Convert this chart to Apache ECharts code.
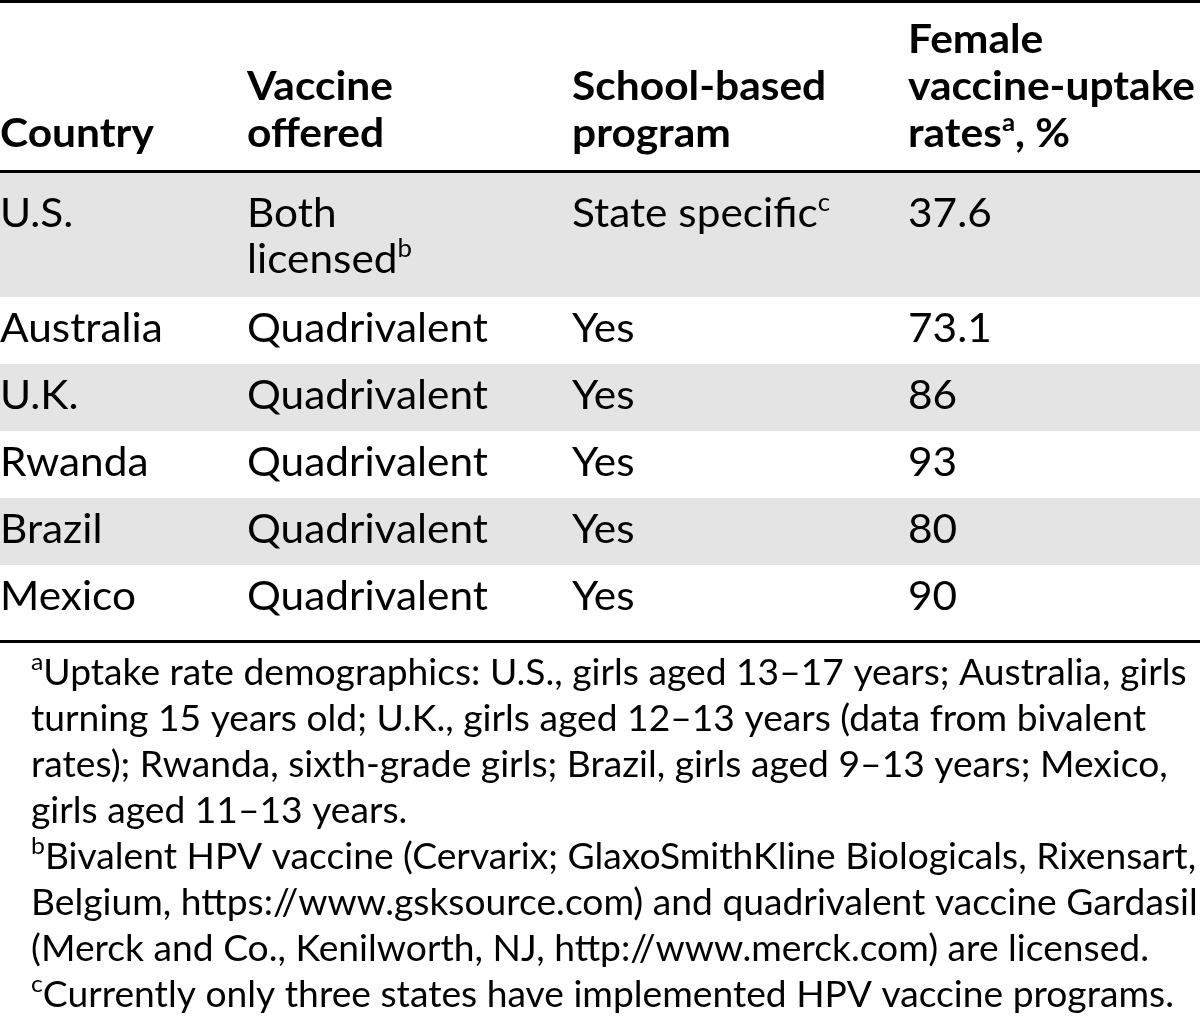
<!DOCTYPE html>
<html>
<head>
<meta charset="utf-8">
<title>HPV vaccine uptake table</title>
<script src="https://cdn.jsdelivr.net/npm/echarts/dist/echarts.min.js"></script>
<style>
  html, body { margin: 0; padding: 0; background: #ffffff; }
  #chart { width: 1200px; height: 1017px; }
</style>
</head>
<body>
<div id="chart"></div>
<script>
// ---------------- DATA (read from the reference table) ----------------
// "{x}" marks a superscript footnote letter, "\n" a line break inside a cell.
const headers = ['Country', 'Vaccine\noffered', 'School-based\nprogram', 'Female\nvaccine-uptake\nrates{a}, %'];
const countries = ['U.S.', 'Australia', 'U.K.', 'Rwanda', 'Brazil', 'Mexico'];
const vaccineOffered = ['Both\nlicensed{b}', 'Quadrivalent', 'Quadrivalent', 'Quadrivalent', 'Quadrivalent', 'Quadrivalent'];
const schoolBasedProgram = ['State specific{c}', 'Yes', 'Yes', 'Yes', 'Yes', 'Yes'];
const uptakeRates = ['37.6', '73.1', '86', '93', '80', '90'];
const footnotes = [
  '{a}Uptake rate demographics: U.S., girls aged 13–17 years; Australia, girls',
  'turning 15 years old; U.K., girls aged 12–13 years (data from bivalent',
  'rates); Rwanda, sixth-grade girls; Brazil, girls aged 9–13 years; Mexico,',
  'girls aged 11–13 years.',
  '{b}Bivalent HPV vaccine (Cervarix; GlaxoSmithKline Biologicals, Rixensart,',
  'Belgium, https://www.gsksource.com) and quadrivalent vaccine Gardasil',
  '(Merck and Co., Kenilworth, NJ, http://www.merck.com) are licensed.',
  '{c}Currently only three states have implemented HPV vaccine programs.'
];

// ---------------- LAYOUT / STYLE ----------------
const FAMILY = 'Lato, "Noto Sans", "DejaVu Sans", sans-serif';
const layout = {
  width: 1200,
  colX: [0, 247, 572, 908],
  topRule: { y: 0, h: 3 },
  headRule: { y: 170, h: 3 },
  bottomRule: { y: 640, h: 3 },
  headLastBaseline: 147,
  headLineHeight: 47,
  firstRowTop: 173,
  firstRowHeight: 124,
  rowHeight: 67,
  firstRowBaselineOffset: 54,
  rowBaselineOffset: 45,
  bodyLineHeight: 46,
  footX: 31,
  footFirstBaseline: 685,
  footLineHeight: 46,
  shade: '#e4e4e4',
  ink: '#000000'
};
const fonts = {
  head: { size: 41, weight: 'bold', supSize: 25, raise: 20, target: ['vaccine-uptake', 287] },
  body: { size: 41, weight: 'normal', supSize: 25, raise: 20, target: ['Quadrivalent', 241] },
  foot: { size: 36, weight: 'normal', supSize: 24, raise: 18, target: ['turning 15 years old; U.K., girls aged 12–13 years (data from bivalent', 1115] }
};

// ---------------- helpers ----------------
const ctx = document.createElement('canvas').getContext('2d');
function fontStr(size, weight) { return weight + ' ' + size + 'px ' + FAMILY; }
function textWidth(size, weight, txt) { ctx.font = fontStr(size, weight); ctx.textBaseline = 'alphabetic'; return ctx.measureText(txt).width; }
function middleToBaseline(size, weight) {
  ctx.font = fontStr(size, weight);
  ctx.textBaseline = 'middle';
  const m = ctx.measureText('H');
  ctx.textBaseline = 'alphabetic';
  return m.actualBoundingBoxDescent;
}
// prepare a font group: horizontal scale and vertical offsets
function prepFont(f, lineHeight) {
  f.scaleX = f.target[1] / textWidth(f.size, f.weight, f.target[0]);
  f.offMain = middleToBaseline(f.size, f.weight);
  f.offSup = middleToBaseline(f.supSize, f.weight);
  f.lineHeight = lineHeight;
  f.supLH = Math.max(2, 2 * (lineHeight / 2 + f.offMain - f.offSup - f.raise));
  f.rich = {
    m: { fontFamily: FAMILY, fontSize: f.size, fontWeight: f.weight, lineHeight: lineHeight, fill: layout.ink, verticalAlign: 'middle' },
    s: { fontFamily: FAMILY, fontSize: f.supSize, fontWeight: f.weight, lineHeight: f.supLH, fill: layout.ink, verticalAlign: 'top' }
  };
  return f;
}
function toRich(str) {
  return String(str).split('\n').map(function (line) {
    const parts = line.split(/\{(\w)\}/);
    let out = '';
    parts.forEach(function (p, i) {
      if (!p) return;
      out += (i % 2 === 1) ? '{s|' + p + '}' : '{m|' + p + '}';
    });
    return out;
  }).join('\n');
}
function textEl(str, x, firstBaseline, f) {
  const topY = firstBaseline - f.offMain - f.lineHeight / 2;
  return {
    type: 'text',
    x: x, y: topY,
    scaleX: f.scaleX, scaleY: 1,
    originX: 0, originY: 0,
    silent: true,
    z: 10,
    style: {
      text: toRich(str),
      x: 0, y: 0,
      align: 'left',
      verticalAlign: 'top',
      fontFamily: FAMILY,
      fontSize: f.size,
      fontWeight: f.weight,
      lineHeight: f.lineHeight,
      fill: layout.ink,
      rich: f.rich
    }
  };
}
function rule(r) {
  return { type: 'rect', silent: true, z: 5, shape: { x: 0, y: r.y, width: layout.width, height: r.h }, style: { fill: layout.ink } };
}

// ---------------- build ----------------
prepFont(fonts.head, layout.headLineHeight);
prepFont(fonts.body, layout.bodyLineHeight);
prepFont(fonts.foot, layout.footLineHeight);

const elements = [];
const columns = [countries, vaccineOffered, schoolBasedProgram, uptakeRates];
const nRows = countries.length;

// row geometry
const rowTops = [];
for (let i = 0; i < nRows; i++) {
  rowTops.push(i === 0 ? layout.firstRowTop : layout.firstRowTop + layout.firstRowHeight + (i - 1) * layout.rowHeight);
}
const rowBottoms = rowTops.map(function (t, i) { return i < nRows - 1 ? rowTops[i + 1] : layout.bottomRule.y; });

// shading (every other row, starting with the first)
for (let i = 0; i < nRows; i += 2) {
  elements.push({ type: 'rect', silent: true, z: 1, shape: { x: 0, y: rowTops[i], width: layout.width, height: rowBottoms[i] - rowTops[i] }, style: { fill: layout.shade } });
}
// rules
elements.push(rule(layout.topRule), rule(layout.headRule), rule(layout.bottomRule));

// headers (bottom aligned)
headers.forEach(function (h, c) {
  const n = h.split('\n').length;
  elements.push(textEl(h, layout.colX[c], layout.headLastBaseline - (n - 1) * layout.headLineHeight, fonts.head));
});
// body cells
for (let i = 0; i < nRows; i++) {
  const base = rowTops[i] + (i === 0 ? layout.firstRowBaselineOffset : layout.rowBaselineOffset);
  columns.forEach(function (col, c) {
    elements.push(textEl(col[i], layout.colX[c], base, fonts.body));
  });
}
// footnotes
elements.push(textEl(footnotes.join('\n'), layout.footX, layout.footFirstBaseline, fonts.foot));

const chart = echarts.init(document.getElementById('chart'), null, { renderer: 'canvas', width: 1200, height: 1017 });
chart.setOption({
  backgroundColor: '#ffffff',
  animation: false,
  graphic: { elements: elements }
});
</script>
</body>
</html>
